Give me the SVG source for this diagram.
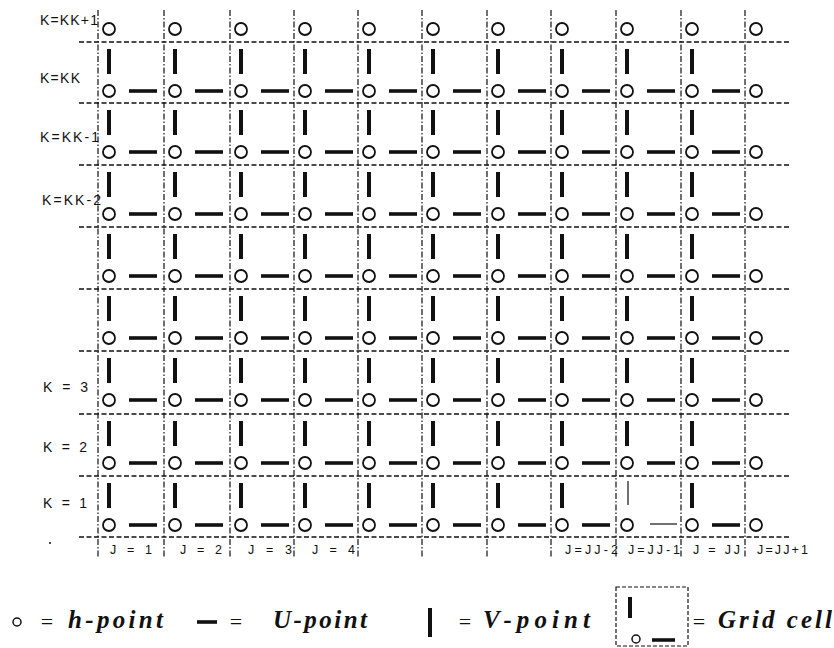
<svg xmlns="http://www.w3.org/2000/svg" xmlns:xlink="http://www.w3.org/1999/xlink" width="834" height="648" viewBox="0 0 834 648">
<style>
.bg{fill:#fff}
.hl{stroke:#111;stroke-width:1.3;stroke-dasharray:5 2.5;fill:none}
.vl{stroke:#111;stroke-width:1.2;stroke-dasharray:6 2 1.5 2;fill:none}
.h{fill:none;stroke:#111;stroke-width:1.8}
.u{stroke:#111;stroke-width:3.6}
.v{stroke:#111;stroke-width:4}
.thin{stroke:#111;stroke-width:1.2}
.lbl{font-family:"Liberation Sans",Arial,sans-serif;font-size:14px;fill:#111}
.jl{font-family:"Liberation Sans",Arial,sans-serif;font-size:12.5px;fill:#111}
.leg{font-family:"Liberation Serif","Times New Roman",serif;font-size:25px;font-style:italic;font-weight:bold;fill:#111}
.eq{font-family:"Liberation Serif","Times New Roman",serif;font-size:22px;fill:#111;text-anchor:middle}
.box{fill:none;stroke:#111;stroke-width:1.2;stroke-dasharray:4 2}
</style>
<defs>
<circle id="hp" cx="0" cy="0" r="6" class="h"/>
<g id="cell">
<line x1="11" y1="7" x2="11" y2="32" class="v"/>
<circle cx="11" cy="49" r="6" class="h"/>
<line x1="31" y1="49" x2="59" y2="49" class="u"/>
</g>
<g id="cellthin">
<line x1="12" y1="5" x2="12" y2="29" class="thin"/>
<circle cx="11" cy="49" r="6" class="h"/>
<line x1="34" y1="48" x2="61" y2="48" class="thin"/>
</g>
</defs>
<rect class="bg" x="0" y="0" width="834" height="648"/>

<g id="gridlines">
<line class="hl" x1="79" y1="42" x2="790" y2="42"/>
<line class="hl" x1="79" y1="103" x2="790" y2="103"/>
<line class="hl" x1="79" y1="165" x2="790" y2="165"/>
<line class="hl" x1="79" y1="227" x2="790" y2="227"/>
<line class="hl" x1="79" y1="289" x2="790" y2="289"/>
<line class="hl" x1="79" y1="351" x2="790" y2="351"/>
<line class="hl" x1="79" y1="414" x2="790" y2="414"/>
<line class="hl" x1="79" y1="476" x2="790" y2="476"/>
<line class="hl" x1="79" y1="537" x2="790" y2="537"/>
<line class="vl" x1="98" y1="10" x2="98" y2="557"/>
<line class="vl" x1="164" y1="10" x2="164" y2="557"/>
<line class="vl" x1="230" y1="10" x2="230" y2="557"/>
<line class="vl" x1="294" y1="10" x2="294" y2="557"/>
<line class="vl" x1="358" y1="10" x2="358" y2="557"/>
<line class="vl" x1="422" y1="10" x2="422" y2="557"/>
<line class="vl" x1="487" y1="10" x2="487" y2="557"/>
<line class="vl" x1="551" y1="10" x2="551" y2="557"/>
<line class="vl" x1="616" y1="10" x2="616" y2="557"/>
<line class="vl" x1="681" y1="10" x2="681" y2="557"/>
<line class="vl" x1="745" y1="10" x2="745" y2="557"/>
</g>

<g id="row-top">
<use href="#hp" x="109" y="29"/><use href="#hp" x="175" y="29"/><use href="#hp" x="241" y="29"/><use href="#hp" x="305" y="29"/><use href="#hp" x="369" y="29"/><use href="#hp" x="433" y="29"/><use href="#hp" x="498" y="29"/><use href="#hp" x="562" y="29"/><use href="#hp" x="627" y="29"/><use href="#hp" x="692" y="29"/><use href="#hp" x="756" y="29"/>
</g>
<g id="row-KK">
<use href="#cell" x="98" y="42"/><use href="#cell" x="164" y="42"/><use href="#cell" x="230" y="42"/><use href="#cell" x="294" y="42"/><use href="#cell" x="358" y="42"/><use href="#cell" x="422" y="42"/><use href="#cell" x="487" y="42"/><use href="#cell" x="551" y="42"/><use href="#cell" x="616" y="42"/><use href="#cell" x="681" y="42"/><use href="#hp" x="756" y="91"/>
</g>
<g id="row-KK-1">
<use href="#cell" x="98" y="103"/><use href="#cell" x="164" y="103"/><use href="#cell" x="230" y="103"/><use href="#cell" x="294" y="103"/><use href="#cell" x="358" y="103"/><use href="#cell" x="422" y="103"/><use href="#cell" x="487" y="103"/><use href="#cell" x="551" y="103"/><use href="#cell" x="616" y="103"/><use href="#cell" x="681" y="103"/><use href="#hp" x="756" y="152"/>
</g>
<g id="row-KK-2">
<use href="#cell" x="98" y="165"/><use href="#cell" x="164" y="165"/><use href="#cell" x="230" y="165"/><use href="#cell" x="294" y="165"/><use href="#cell" x="358" y="165"/><use href="#cell" x="422" y="165"/><use href="#cell" x="487" y="165"/><use href="#cell" x="551" y="165"/><use href="#cell" x="616" y="165"/><use href="#cell" x="681" y="165"/><use href="#hp" x="756" y="214"/>
</g>
<g id="row-5">
<use href="#cell" x="98" y="227"/><use href="#cell" x="164" y="227"/><use href="#cell" x="230" y="227"/><use href="#cell" x="294" y="227"/><use href="#cell" x="358" y="227"/><use href="#cell" x="422" y="227"/><use href="#cell" x="487" y="227"/><use href="#cell" x="551" y="227"/><use href="#cell" x="616" y="227"/><use href="#cell" x="681" y="227"/><use href="#hp" x="756" y="276"/>
</g>
<g id="row-4">
<use href="#cell" x="98" y="289"/><use href="#cell" x="164" y="289"/><use href="#cell" x="230" y="289"/><use href="#cell" x="294" y="289"/><use href="#cell" x="358" y="289"/><use href="#cell" x="422" y="289"/><use href="#cell" x="487" y="289"/><use href="#cell" x="551" y="289"/><use href="#cell" x="616" y="289"/><use href="#cell" x="681" y="289"/><use href="#hp" x="756" y="338"/>
</g>
<g id="row-3">
<use href="#cell" x="98" y="351"/><use href="#cell" x="164" y="351"/><use href="#cell" x="230" y="351"/><use href="#cell" x="294" y="351"/><use href="#cell" x="358" y="351"/><use href="#cell" x="422" y="351"/><use href="#cell" x="487" y="351"/><use href="#cell" x="551" y="351"/><use href="#cell" x="616" y="351"/><use href="#cell" x="681" y="351"/><use href="#hp" x="756" y="400"/>
</g>
<g id="row-2">
<use href="#cell" x="98" y="414"/><use href="#cell" x="164" y="414"/><use href="#cell" x="230" y="414"/><use href="#cell" x="294" y="414"/><use href="#cell" x="358" y="414"/><use href="#cell" x="422" y="414"/><use href="#cell" x="487" y="414"/><use href="#cell" x="551" y="414"/><use href="#cell" x="616" y="414"/><use href="#cell" x="681" y="414"/><use href="#hp" x="756" y="463"/>
</g>
<g id="row-1">
<use href="#cell" x="98" y="476"/><use href="#cell" x="164" y="476"/><use href="#cell" x="230" y="476"/><use href="#cell" x="294" y="476"/><use href="#cell" x="358" y="476"/><use href="#cell" x="422" y="476"/><use href="#cell" x="487" y="476"/><use href="#cell" x="551" y="476"/><use href="#cellthin" x="616" y="476"/><use href="#cell" x="681" y="476"/><use href="#hp" x="756" y="525"/>
</g>

<g id="k-labels">
<text class="lbl" x="40" y="25" textLength="58" lengthAdjust="spacing">K=KK+1</text>
<text class="lbl" x="40" y="83" textLength="40" lengthAdjust="spacing">K=KK</text>
<text class="lbl" x="40" y="142" textLength="59" lengthAdjust="spacing">K=KK-1</text>
<text class="lbl" x="42" y="205" textLength="59" lengthAdjust="spacing">K=KK-2</text>
<text class="lbl" x="43" y="392" textLength="45" lengthAdjust="spacing">K = 3</text>
<text class="lbl" x="43" y="452" textLength="44" lengthAdjust="spacing">K = 2</text>
<text class="lbl" x="43" y="508" textLength="44" lengthAdjust="spacing">K = 1</text>
<circle cx="50" cy="543" r="1" fill="#111"/>
</g>

<g id="j-labels">
<text class="jl" x="110" y="554" textLength="42" lengthAdjust="spacing">J = 1</text>
<text class="jl" x="180" y="554" textLength="42" lengthAdjust="spacing">J = 2</text>
<text class="jl" x="248" y="554" textLength="44" lengthAdjust="spacing">J = 3</text>
<text class="jl" x="312" y="554" textLength="43" lengthAdjust="spacing">J = 4</text>
<text class="jl" x="565" y="554" textLength="53" lengthAdjust="spacing">J=JJ-2</text>
<text class="jl" x="628" y="554" textLength="52" lengthAdjust="spacing">J=JJ-1</text>
<text class="jl" x="693" y="554" textLength="47" lengthAdjust="spacing">J = JJ</text>
<text class="jl" x="757" y="554" textLength="51" lengthAdjust="spacing">J=JJ+1</text>
</g>

<g id="legend">
<circle cx="17" cy="622" r="4" fill="none" stroke="#111" stroke-width="1.5"/>
<text class="eq" x="47" y="629">=</text>
<text class="leg" x="68" y="628" textLength="95" lengthAdjust="spacing">h-point</text>
<line x1="197" y1="622" x2="217" y2="622" class="u"/>
<text class="eq" x="236" y="629">=</text>
<text class="leg" x="273" y="628" textLength="94" lengthAdjust="spacing">U-point</text>
<line x1="430" y1="608" x2="430" y2="637" class="v"/>
<text class="eq" x="465" y="629">=</text>
<text class="leg" x="483" y="628" textLength="107" lengthAdjust="spacing">V-point</text>
<rect class="box" x="616" y="587" width="72" height="59"/>
<line x1="630" y1="597" x2="630" y2="618" class="v"/>
<circle cx="636" cy="639" r="4" fill="none" stroke="#111" stroke-width="1.5"/>
<line x1="652" y1="640" x2="675" y2="640" class="u"/>
<text class="eq" x="699" y="629">=</text>
<text class="leg" x="718" y="628" textLength="114" lengthAdjust="spacing">Grid cell</text>
</g>
</svg>
